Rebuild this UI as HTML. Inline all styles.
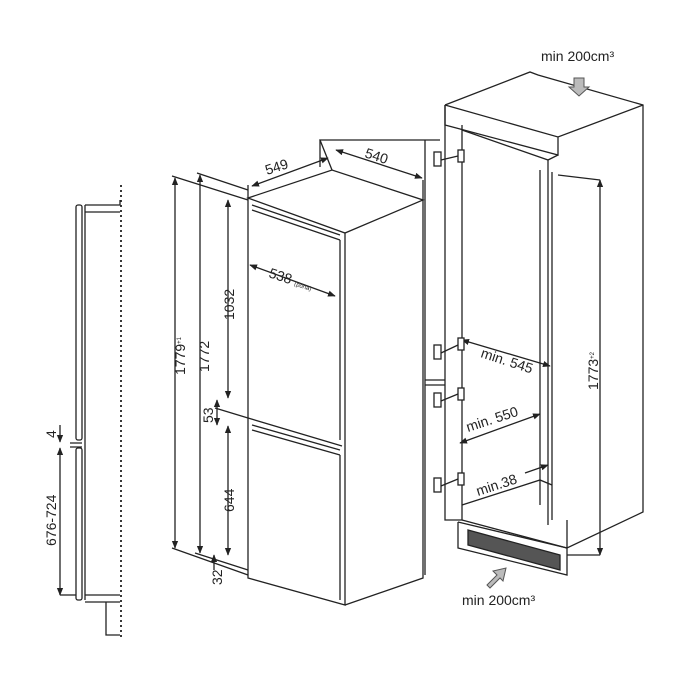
<!DOCTYPE html>
<html><head><style>
html,body{margin:0;padding:0;background:#fff;}
svg{display:block;}
text{font-family:"Liberation Sans",sans-serif;fill:#222;}
</style></head><body>
<svg width="700" height="700" viewBox="0 0 700 700" xmlns="http://www.w3.org/2000/svg">
<defs>
<marker id="a" viewBox="0 0 10 10" refX="9" refY="5" markerWidth="6" markerHeight="6" orient="auto-start-reverse"><path d="M0,1 L10,5 L0,9 z" fill="#222"/></marker>
</defs>
<g stroke="#222" fill="none" stroke-width="1.3">
<!-- left profile -->
<line x1="121" y1="185" x2="121" y2="640" stroke-dasharray="2,3" stroke-width="1.8"/>
<rect x="76" y="205" width="6" height="235" rx="2"/>
<rect x="76" y="448" width="6" height="152" rx="2"/>
<line x1="85" y1="205" x2="85" y2="600"/>
<path d="M85,205 L120,205 L120,200 M85,212 L120,212"/>
<path d="M85,595 L120,595 M85,602 L120,602 M106,602 L106,635 L120,635"/>
<path d="M70,443 L82,443 M70,447 L82,447"/>
<line x1="60" y1="448" x2="60" y2="595" marker-start="url(#a)" marker-end="url(#a)"/>
<line x1="60" y1="595" x2="76" y2="595"/>
<line x1="60" y1="425" x2="60" y2="442" marker-end="url(#a)"/>
<!-- fridge -->
<path d="M248,198 L332,170 L423,200 L345,233 Z"/>
<path d="M248,198 L248,578 L345,605 L345,233"/>
<path d="M423,200 L423,578 L345,605"/>
<path d="M252,205 L340,235 M252,210 L340,240"/>
<path d="M252,425 L340,450 M252,430 L340,455 M248,418 L342,446"/>
<path d="M340,240 L340,440 M340,455 L340,600"/>
<path d="M332,170 L320,140 L440,140"/>
<path d="M320,140 L320,167"/>
<!-- dimension lines -->
<line x1="175" y1="178" x2="175" y2="548" marker-start="url(#a)" marker-end="url(#a)"/>
<line x1="200" y1="175" x2="200" y2="553" marker-start="url(#a)" marker-end="url(#a)"/>
<line x1="228" y1="200" x2="228" y2="398" marker-start="url(#a)" marker-end="url(#a)"/>
<line x1="228" y1="426" x2="228" y2="555" marker-start="url(#a)" marker-end="url(#a)"/>
<line x1="217" y1="400" x2="217" y2="425" marker-start="url(#a)" marker-end="url(#a)"/>
<line x1="214" y1="555" x2="214" y2="570" marker-start="url(#a)"/>
<path d="M172,176 L248,200 M197,173 L248,190 M172,548 L248,575 M195,553 L248,570 M215,408 L248,418"/>
<line x1="252" y1="186" x2="328" y2="158" marker-start="url(#a)" marker-end="url(#a)"/>
<line x1="336" y1="150" x2="422" y2="178" marker-start="url(#a)" marker-end="url(#a)"/>
<line x1="250" y1="265" x2="335" y2="296" marker-start="url(#a)" marker-end="url(#a)"/>
<line x1="248" y1="185" x2="248" y2="198"/>
<line x1="423" y1="180" x2="423" y2="200"/>
<!-- cabinet -->
<path d="M445,105 L530,72 L538,75 L643,105 L643,512 L567,548 L567,520"/>
<path d="M445,105 L558,137 L643,105 M445,105 L445,125 L558,155 L558,137"/>
<path d="M445,105 L445,520 L462,520 L462,125"/>
<path d="M462,130 L548,160 L548,525 M462,520 L567,548 M548,160 L558,155"/>
<path d="M552,172 L552,520 M540,170 L540,505"/>
<path d="M462,505 L540,480 L552,485"/>
<path d="M458,522 L458,548 L567,575 L567,548 M458,522 L567,548"/>
<path d="M468,530 L560,555 L560,570 L468,545 Z" fill="#555"/>
<line x1="600" y1="180" x2="600" y2="555" marker-start="url(#a)" marker-end="url(#a)"/>
<path d="M558,175 L600,180 M567,555 L600,555"/>
<line x1="462" y1="340" x2="550" y2="366" marker-start="url(#a)" marker-end="url(#a)"/>
<line x1="460" y1="443" x2="540" y2="414" marker-start="url(#a)" marker-end="url(#a)"/>
<line x1="525" y1="473" x2="548" y2="465" marker-end="url(#a)"/>
<!-- hinges -->
<g fill="#fff">
<rect x="434" y="152" width="7" height="14"/><rect x="434" y="345" width="7" height="14"/>
<rect x="434" y="393" width="7" height="14"/><rect x="434" y="478" width="7" height="14"/>
<rect x="458" y="150" width="6" height="12"/><rect x="458" y="338" width="6" height="12"/>
<rect x="458" y="388" width="6" height="12"/><rect x="458" y="473" width="6" height="12"/>
</g>
<path d="M441,160 L458,156 M441,353 L458,345 M441,401 L458,394 M441,486 L458,479"/>
<path d="M425,380 L445,380 M425,385 L445,385 M425,140 L425,575"/>
</g>
<!-- arrows -->
<path d="M574,78 L584,78 L584,87 L589,87 L579,96 L569,87 L574,87 Z" fill="#bbb" stroke="#555"/>
<path d="M487,585 L497,575 L493,571 L506,568 L503,581 L500,578 L490,588 Z" fill="#bbb" stroke="#555"/>
<!-- labels -->
<g font-size="14">
<text x="541" y="61">min 200cm³</text>
<text x="462" y="605">min 200cm³</text>
<text x="267" y="175" transform="rotate(-18 267 175)">549</text>
<text x="364" y="157" transform="rotate(18 364 157)">540</text>
<text x="268" y="277" transform="rotate(18 268 277)">538 <tspan font-size="6">(porta)</tspan></text>
<text x="480" y="357" transform="rotate(18 480 357)">min. 545</text>
<text x="468" y="432" transform="rotate(-18 468 432)">min. 550</text>
<text x="478" y="496" transform="rotate(-18 478 496)">min.38</text>
<text transform="translate(185 375) rotate(-90)">1779<tspan font-size="6" dy="-4">+1</tspan></text>
<text transform="translate(209 372) rotate(-90)">1772</text>
<text transform="translate(234 320) rotate(-90)">1032</text>
<text transform="translate(234 512) rotate(-90)">644</text>
<text transform="translate(213 423) rotate(-90)">53</text>
<text transform="translate(222 585) rotate(-90)">32</text>
<text transform="translate(598 390) rotate(-90)">1773<tspan font-size="6" dy="-4">+2</tspan></text>
<text transform="translate(56 438) rotate(-90)">4</text>
<text transform="translate(56 546) rotate(-90)">676-724</text>
</g>
</svg>
</body></html>
